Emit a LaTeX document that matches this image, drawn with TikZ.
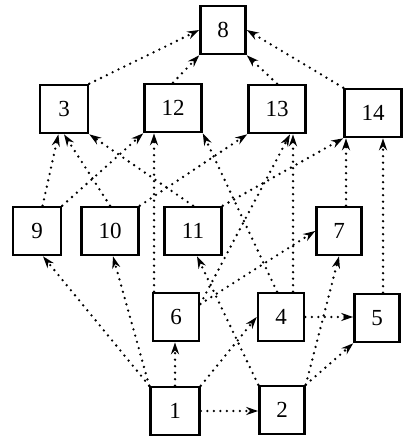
\documentclass[tikz,border=0pt]{standalone}
\usepackage{fontspec}
\setmainfont{Liberation Serif}
\usetikzlibrary{arrows.meta}
\begin{document}
\begin{tikzpicture}[x=1pt,y=-1pt,
    box/.style={draw,line width=2.6pt,minimum height=48pt,minimum width=45pt,
      inner sep=0pt,font=\fontsize{23}{26}\selectfont},
    wide/.style={minimum width=57pt},
    link/.style={line width=2.6pt,dash pattern=on 0pt off 6.5pt,line cap=round,
      -{Stealth[length=12pt,width=8pt]}}]
            \useasboundingbox (0,0) rectangle (414,443);
            % boxes
            \node[box] (n8) at (223,30) {8};
            \node[box,minimum width=48pt] (n3) at (64,109) {3};
            \node[box,wide] (n12) at (173,108) {12};
            \node[box,wide] (n13) at (277,109) {13};
            \node[box,wide] (n14) at (373,113) {14};
            \node[box,minimum width=48pt] (n9) at (37,231) {9};
            \node[box,wide] (n10) at (110,231) {10};
            \node[box,wide] (n11) at (193,231) {11};
            \node[box] (n7) at (339,231) {7};
            \node[box,minimum width=46pt] (n6) at (176,317) {6};
            \node[box,minimum width=46pt] (n4) at (281,317) {4};
            \node[box] (n5) at (377,318) {5};
            \node[box,minimum width=49pt] (n1) at (175,411) {1};
            \node[box] (n2) at (282,410) {2};
            % top row
            \draw[link] (n3.north east) -- (n8.west);
            \draw[link] (n12.north) -- (n8.south west);
            \draw[link] (n13.north) -- (n8.south east);
            \draw[link] (n14.north west) -- (n8.east);
            % middle rows
            \draw[link] (n9) -- (n3);
            \draw[link] (n10.north) -- (n3.south);
            \draw[link] (n11.north) -- (n3.south east);
            \draw[link] (n9.north east) -- (n12.south west);
            \draw[link] (n10.north east) -- (n13.south west);
            \draw[link] (n11.north east) -- (n14.south west);
            \draw[link] ([xshift=7pt]n7.north) -- ([xshift=7pt]n7.north |- n14.south);
            \draw[link] ([xshift=6pt]n5.north) -- ([xshift=6pt]n5.north |- n14.south);
            \draw[link] ([xshift=-22pt]n6.north) -- ([xshift=-22pt]n6.north |- n12.south);
            \draw[link] ([xshift=-4pt]n4.north) -- (n12.south east);
            \draw[link] ([xshift=12pt]n4.north) -- ([xshift=12pt]n4.north |- n13.south);
            \draw[link] ([yshift=13pt]n6.east) -- ([xshift=13pt]n13.south);
            \draw[link] ([yshift=13pt]n6.east) -- (n7.west);
            % bottom rows
            \draw[link] (n1.north west) -- ([xshift=6pt]n9.south);
            \draw[link] (n1.north west) -- ([xshift=3pt]n10.south);
            \draw[link] (n1.north) -- (n1.north |- n6.south);
            \draw[link] (n1.north east) -- (n4.west);
            \draw[link] (n1.east) -- (n1.east -| n2.west);
            \draw[link] (n4.east) -- (n4.east -| n5.west);
            \draw[link] (n2.north west) -- ([xshift=4pt]n11.south);
            \draw[link] (n2.north east) -- (n5.south west);
            \draw[link] (n2.north east) -- (n7.south);
          \end{tikzpicture}
\end{document}
